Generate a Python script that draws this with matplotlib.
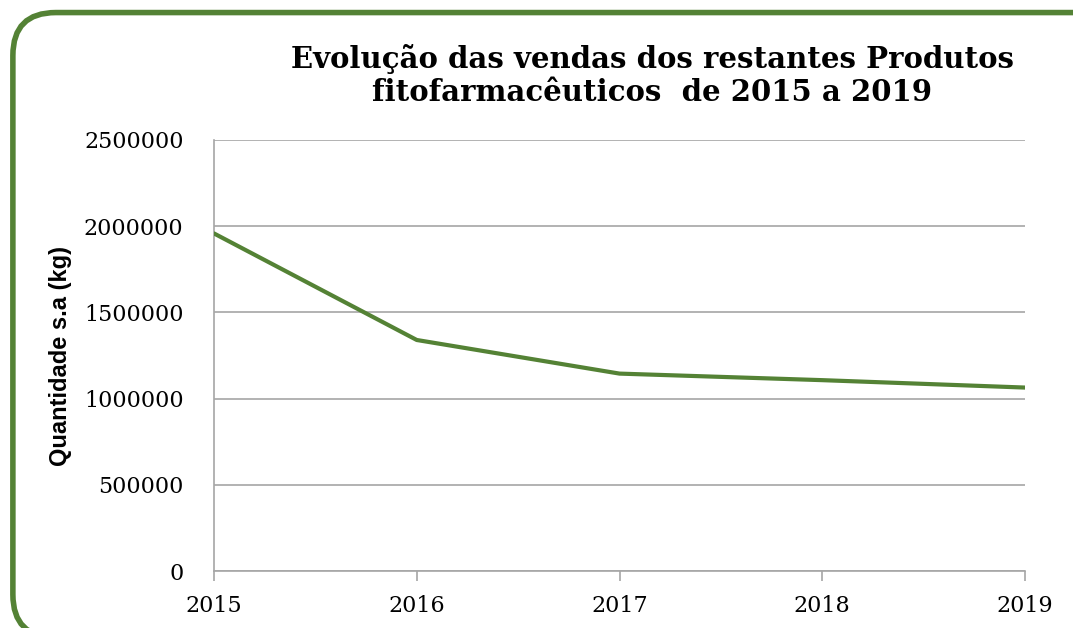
import matplotlib.pyplot as plt
from matplotlib import font_manager
from matplotlib.patches import FancyBboxPatch

anos = [2015, 2016, 2017, 2018, 2019]
quantidade = [1958000, 1340000, 1145000, 1107000, 1064000]
y_ticks = [0, 500000, 1000000, 1500000, 2000000, 2500000]

verde = '#548235'

# Liberation Sans Bold (nao a Narrow)
arial_bold = None
for f in font_manager.fontManager.ttflist:
    if f.name == 'Liberation Sans' and 'Narrow' not in f.fname and f.weight in (700, 'bold') \
            and f.style == 'normal':
        arial_bold = font_manager.FontProperties(fname=f.fname, size=17)
        break
if arial_bold is None:
    arial_bold = font_manager.FontProperties(family='DejaVu Sans', weight='bold', size=15)

fig = plt.figure(figsize=(10.73, 6.28), dpi=100)

# moldura arredondada
moldura = FancyBboxPatch((0.012, -0.015), 1.05, 0.995, boxstyle='round,pad=0,rounding_size=0.04',
                         transform=fig.transFigure, facecolor='none', edgecolor=verde,
                         linewidth=4, mutation_aspect=1073 / 628, zorder=-1)
fig.patches.append(moldura)

ax = fig.add_axes([214 / 1073, 57 / 628, 811 / 1073, 431 / 628])
ax.set_facecolor('none')
ax.plot(anos, quantidade, color=verde, linewidth=3, solid_capstyle='round', zorder=3)

ax.set_xlim(2015, 2019)
ax.set_ylim(0, 2500000)
ax.set_xticks(anos)
ax.set_yticks(y_ticks)
ax.set_xticklabels([str(a) for a in anos], fontfamily='DejaVu Serif', fontsize=16)
ax.set_yticklabels([str(v) for v in y_ticks], fontfamily='DejaVu Serif', fontsize=16)
ax.grid(axis='y', color='#a6a6a6', linewidth=1.2)
ax.tick_params(axis='y', length=0, pad=22)
ax.tick_params(axis='x', length=7, color='#a6a6a6', width=1.2, pad=10)
for s in ['top', 'right']:
    ax.spines[s].set_visible(False)
for s in ['left', 'bottom']:
    ax.spines[s].set_color('#a6a6a6')
    ax.spines[s].set_linewidth(1.2)

ax.set_ylabel('Quantidade s.a (kg)', fontproperties=arial_bold)
ax.yaxis.set_label_coords(-0.175, 0.5)

fig.text(0.608, 0.88, 'Evolução das vendas dos restantes Produtos\nfitofarmacêuticos  de 2015 a 2019',
         ha='center', va='center', fontfamily='DejaVu Serif', fontweight='bold', fontsize=21,
         linespacing=1.15)

fig.savefig('out.png', dpi=100)
